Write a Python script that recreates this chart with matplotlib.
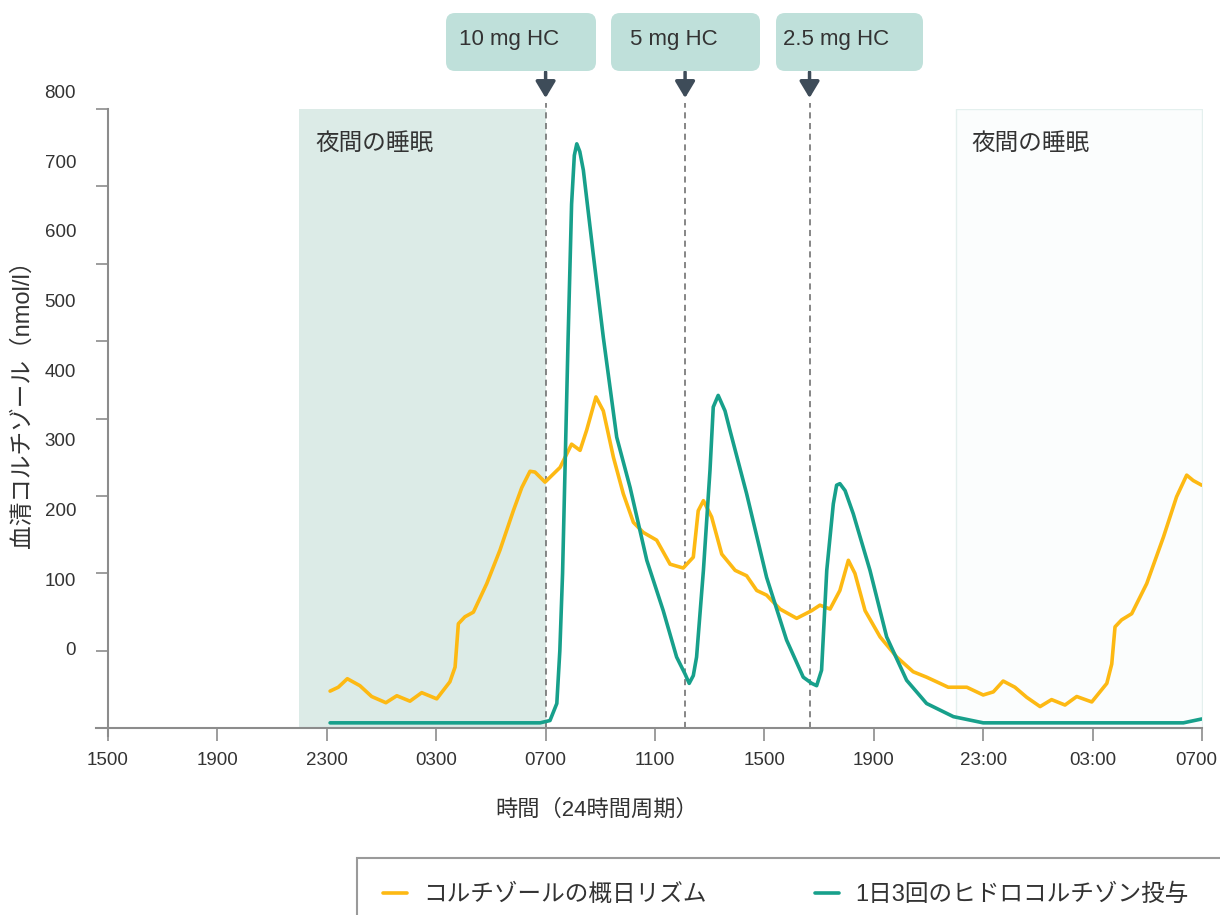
import matplotlib.pyplot as plt
from matplotlib.patches import FancyBboxPatch, Rectangle
from matplotlib.transforms import IdentityTransform, ScaledTranslation

plt.rcParams['font.family'] = ['Liberation Sans', 'Noto Sans CJK JP']

# time axis: hours after 15:00 on day 1 (0 = 1500, 40 = 0700 on day 3)
cortisol_t = [8.12, 8.42, 8.75, 9.21, 9.64, 10.16, 10.56, 11.04, 11.47, 12.02,
              12.50, 12.69, 12.81, 13.05, 13.36, 13.85, 14.33, 14.82, 15.13, 15.43,
              15.61, 15.98, 16.53, 16.95, 17.26, 17.50, 17.84, 18.11, 18.48, 18.84,
              19.21, 19.57, 20.06, 20.55, 21.03, 21.40, 21.58, 21.77, 22.07, 22.44,
              22.93, 23.35, 23.72, 24.08, 24.57, 25.18, 25.73, 26.03, 26.40, 26.76,
              27.07, 27.31, 27.68, 28.23, 28.84, 29.44, 29.93, 30.42, 30.72, 31.40,
              32.00, 32.37, 32.73, 33.16, 33.59, 34.08, 34.50, 34.99, 35.42, 35.97,
              36.52, 36.70, 36.82, 37.06, 37.43, 37.98, 38.59, 39.07, 39.44, 39.68,
              39.99]
cortisol_v = [48, 53, 64, 55, 41, 33, 42, 35, 46, 38,
              60, 79, 135, 144, 150, 187, 230, 281, 311, 332,
              331, 318, 337, 367, 359, 385, 428, 410, 350, 303,
              266, 253, 243, 212, 207, 221, 281, 294, 273, 225,
              204, 197, 178, 172, 154, 142, 152, 159, 154, 178,
              217, 200, 152, 118, 92, 73, 66, 58, 53, 53,
              43, 47, 61, 53, 40, 28, 37, 30, 41, 34,
              58, 83, 131, 140, 148, 187, 247, 299, 327, 320,
              314]

hc_t = [8.12, 15.80, 16.16, 16.41, 16.52, 16.62, 16.72, 16.82, 16.95, 17.05,
        17.14, 17.25, 17.38, 17.74, 18.11, 18.60, 19.09, 19.70, 20.30, 20.79,
        21.10, 21.25, 21.40, 21.52, 21.77, 22.01, 22.13, 22.31, 22.56, 22.74,
        23.35, 24.08, 24.81, 25.42, 25.73, 25.91, 26.09, 26.28, 26.52, 26.64,
        26.76, 26.95, 27.25, 27.86, 28.47, 29.20, 29.93, 30.91, 32.00, 39.32,
        39.99]
hc_v = [7, 7, 10, 32, 100, 200, 350, 500, 677, 740,
        755, 745, 721, 613, 505, 376, 311, 217, 152, 92,
        70, 58, 68, 92, 204, 333, 415, 430, 410, 385,
        303, 195, 114, 66, 58, 55, 75, 204, 290, 314,
        316, 307, 277, 204, 118, 62, 32, 15, 7, 7,
        12]

dose_times = [16.0, 21.1, 25.65]
dose_labels = ['10 mg HC', '5 mg HC', '2.5 mg HC']
sleep_periods = [(7, 16), (31, 40)]
sleep_label = '夜間の睡眠'

xtick_hours = list(range(0, 41, 4))
xtick_labels = ['1500', '1900', '2300', '0300', '0700', '1100',
                '1500', '1900', '23:00', '03:00', '0700']
ytick_values = list(range(0, 801, 100))

series_names = ['コルチゾールの概日リズム', '1日3回のヒドロコルチゾン投与']

ORANGE = '#fdb913'
TEAL = '#17a08b'
SHADE = '#dcebe7'
BOX = '#bfe0da'
ARROW = '#3e4c59'
AXIS = '#8c8c8c'
TEXT = '#333333'

W, H = 1220, 915
fig = plt.figure(figsize=(W / 100, H / 100), dpi=100)
ax = fig.add_axes([95.7 / W, 1 - 736 / H, 1106.3 / W, 627 / H])
ax.set_xlim(-0.45, 40)
ax.set_ylim(-10, 800)

# night sleep bands
ax.fill_between(sleep_periods[0], 0, 800, color=SHADE, lw=0, zorder=0)
ax.fill_between(sleep_periods[1], 0, 800, facecolor='#fbfdfd', edgecolor='#e4f0ee',
                lw=1, zorder=0)
for start, _ in sleep_periods:
    ax.text(start + 0.57, 755, sleep_label, fontsize=17, color=TEXT, va='center')

# dose markers
ax.vlines(dose_times, 0, 808, colors='#666666', linestyles=(0, (4, 3)), lw=1.1,
          clip_on=False, zorder=1)
for t in dose_times:
    ax.annotate('', xy=(t, 1.0175), xycoords=('data', 'axes fraction'),
                xytext=(t, 1.059), textcoords=('data', 'axes fraction'),
                arrowprops=dict(arrowstyle='-|>,head_length=0.5,head_width=0.3',
                                color=ARROW, lw=2.5, mutation_scale=20,
                                shrinkA=0, shrinkB=0),
                annotation_clip=False)

box_px = [(446, 596, 459), (611, 760, 630), (776, 923, 783)]
for (x0, x1, tx), lab in zip(box_px, dose_labels):
    p = FancyBboxPatch((x0, H - 71), x1 - x0, 58,
                       boxstyle='round,pad=0,rounding_size=9',
                       facecolor=BOX, edgecolor='none', transform=IdentityTransform())
    fig.add_artist(p)
    fig.text(tx / W, 1 - 40 / H, lab, fontsize=16, color=TEXT, va='center', ha='left')

l1, = ax.plot(cortisol_t, cortisol_v, color=ORANGE, lw=2.6,
              solid_joinstyle='round', solid_capstyle='round', zorder=3)
l2, = ax.plot(hc_t, hc_v, color=TEAL, lw=2.6,
              solid_joinstyle='round', solid_capstyle='round', zorder=4)

# axes styling
for s in ['top', 'right']:
    ax.spines[s].set_visible(False)
for s in ['left', 'bottom']:
    ax.spines[s].set_color(AXIS)
    ax.spines[s].set_linewidth(1.5)
    ax.spines[s].set_position(('data', 0))

ax.set_xticks(xtick_hours, xtick_labels)
ax.tick_params(axis='x', direction='out', length=9, width=1.2, color=AXIS,
               labelcolor=TEXT, labelsize=13.5, pad=8)
# last label sits right at the figure edge; nudge it in a little
last = ax.get_xticklabels()[-1]
last.set_transform(last.get_transform() + ScaledTranslation(-6 / 100, 0, fig.dpi_scale_trans))

ax.set_yticks(ytick_values)
ax.set_yticklabels([])
ax.tick_params(axis='y', direction='out', length=9, width=1.2, color=AXIS)

# the y labels in the original drift upward relative to their ticks
for v in ytick_values:
    ax.text(-1.17, 100 + 0.9 * v, str(v), fontsize=13.5, color=TEXT,
            ha='right', va='center', clip_on=False)

fig.text(23 / W, 1 - 398 / H, '血清コルチゾール（nmol/l）', fontsize=17, color=TEXT,
         rotation=90, ha='center', va='center')
fig.text(597 / W, 1 - 810 / H, '時間（24時間周期）', fontsize=16, color=TEXT,
         ha='center', va='center')

# legend box runs off the right and bottom edge of the picture
fig.add_artist(Rectangle((357, H - 940), 900, 82, facecolor='white',
                         edgecolor='#9a9a9a', lw=1.5, transform=IdentityTransform()))
leg = fig.legend([l1, l2], series_names, loc='upper left',
                 bbox_to_anchor=(357 / W, 1 - 858 / H), ncol=2, frameon=False,
                 fontsize=17, handlelength=1.0, handletextpad=0.7,
                 columnspacing=4.6, borderpad=1.1, borderaxespad=0)
for t in leg.get_texts():
    t.set_color(TEXT)

fig.savefig('out.png', dpi=100)
